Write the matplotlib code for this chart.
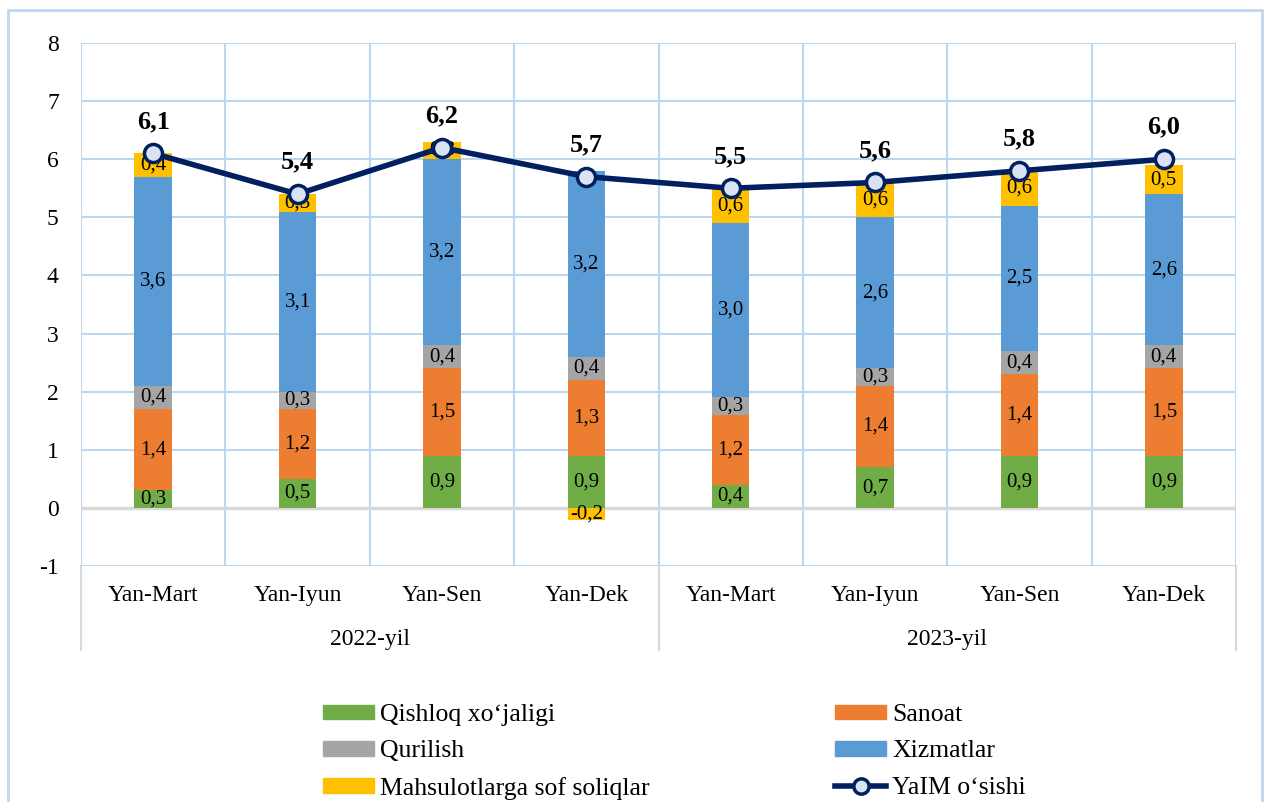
import numpy as np
import matplotlib
matplotlib.use("Agg")
import matplotlib.pyplot as plt
from matplotlib.lines import Line2D
from matplotlib.patches import Rectangle, Patch
import matplotlib.transforms as mtrans

plt.rcParams['font.family'] = ['Liberation Serif', 'DejaVu Serif']

periods = ["Yan-Mart", "Yan-Iyun", "Yan-Sen", "Yan-Dek",
           "Yan-Mart", "Yan-Iyun", "Yan-Sen", "Yan-Dek"]
years = ["2022-yil", "2023-yil"]

qishloq = [0.3, 0.5, 0.9, 0.9, 0.4, 0.7, 0.9, 0.9]
sanoat = [1.4, 1.2, 1.5, 1.3, 1.2, 1.4, 1.4, 1.5]
qurilish = [0.4, 0.3, 0.4, 0.4, 0.3, 0.3, 0.4, 0.4]
xizmatlar = [3.6, 3.1, 3.2, 3.2, 3.0, 2.6, 2.5, 2.6]
soliqlar = [0.4, 0.3, 0.3, -0.2, 0.6, 0.6, 0.6, 0.5]
yaim = [6.1, 5.4, 6.2, 5.7, 5.5, 5.6, 5.8, 6.0]

series = [
    ("Qishloq xo\u2018jaligi", qishloq, "#70AD47"),
    ("Sanoat", sanoat, "#ED7D31"),
    ("Qurilish", qurilish, "#A5A5A5"),
    ("Xizmatlar", xizmatlar, "#5B9BD5"),
    ("Mahsulotlarga sof soliqlar", soliqlar, "#FFC000"),
]

def fmt(v):
    return f"{v:.1f}".replace(".", ",")

fig = plt.figure(figsize=(12.69, 8.02), dpi=100)
ax = fig.add_axes([81 / 1269, 1 - 566 / 802, (1236 - 81) / 1269, (566 - 43) / 802])

# outer chart border
fig.patches.append(Rectangle((8 / 1269, -0.01), (1262 - 8) / 1269, 1 - 10 / 802 + 0.01,
                             transform=fig.transFigure, fill=False,
                             edgecolor="#BDD7EE", linewidth=2))

x = np.arange(len(periods))
pos_base = np.zeros(len(x))
neg_base = np.zeros(len(x))
handles = {}
for name, vals, color in series:
    vals = np.array(vals)
    bottoms = np.where(vals >= 0, pos_base, neg_base)
    ax.bar(x, vals, 0.26, bottom=bottoms, color=color, zorder=2)
    handles[name] = Patch(color=color)
    for xi, v, bt in zip(x, vals, bottoms):
        ax.text(xi, bt + v / 2, fmt(v), ha="center", va="center",
                fontsize=15, color="black", zorder=3)
    pos_base = np.where(vals >= 0, pos_base + vals, pos_base)
    neg_base = np.where(vals < 0, neg_base + vals, neg_base)

ax.plot(x, yaim, color="#002060", linewidth=4, marker="o", markersize=13,
        markerfacecolor="#DAE3F3", markeredgecolor="#002060",
        markeredgewidth=2.5, zorder=4)
for xi, v in zip(x, yaim):
    ax.annotate(fmt(v), (xi, v), xytext=(0, 23), textcoords="offset points",
                ha="center", va="center", fontsize=19, fontweight="bold", zorder=5)

ax.set_xlim(-0.5, len(x) - 0.5)
ax.set_ylim(-1, 8)
ax.set_yticks(range(-1, 9))
ax.set_yticklabels([str(t) for t in range(-1, 9)])
ax.tick_params(axis="y", length=0, labelsize=17, pad=16)
ax.set_xticks(x)
ax.set_xticklabels(periods)
ax.tick_params(axis="x", length=0, labelsize=17, pad=14)

# grid: horizontal + vertical category boundaries
for t in range(-1, 9):
    if t != 0:
        ax.axhline(t, color="#BDD7EE", linewidth=1.5, zorder=0)
ax.axhline(0, color="#D9D9D9", linewidth=2.5, zorder=1)
for b in np.arange(-0.5, len(x), 1.0):
    ax.axvline(b, color="#BDD7EE", linewidth=1.5, zorder=0)
for s in ax.spines.values():
    s.set_visible(False)

# year group labels and separators below axis
trans = mtrans.blended_transform_factory(ax.transData, ax.transAxes)
for i, yr in enumerate(years):
    ax.text(i * 4 + 1.5, -0.14, yr, transform=trans, ha="center", va="center",
            fontsize=17)
for b in [-0.5, 3.5, 7.5]:
    ax.add_line(Line2D([b, b], [0, -0.161], transform=trans, color="#D9D9D9",
                       linewidth=1.5, clip_on=False))

line_handle = Line2D([], [], color="#002060", linewidth=4, marker="o", markersize=11,
                     markerfacecolor="#DAE3F3", markeredgecolor="#002060",
                     markeredgewidth=2.5)
order = ["Qishloq xo\u2018jaligi", "Qurilish", "Mahsulotlarga sof soliqlar",
         "Sanoat", "Xizmatlar"]
hl = [handles[n] for n in order] + [line_handle]
labels = order + ["YaIM o\u2018sishi"]
fig.legend(hl, labels, loc="upper left", bbox_to_anchor=(323 / 1269, 1 - 704 / 802),
           ncol=2, frameon=False, fontsize=18.5, borderpad=0, borderaxespad=0,
           handlelength=2.0, handleheight=0.5, handletextpad=0.23,
           labelspacing=0.56, columnspacing=7.2)

fig.savefig("out.png", dpi=100)
